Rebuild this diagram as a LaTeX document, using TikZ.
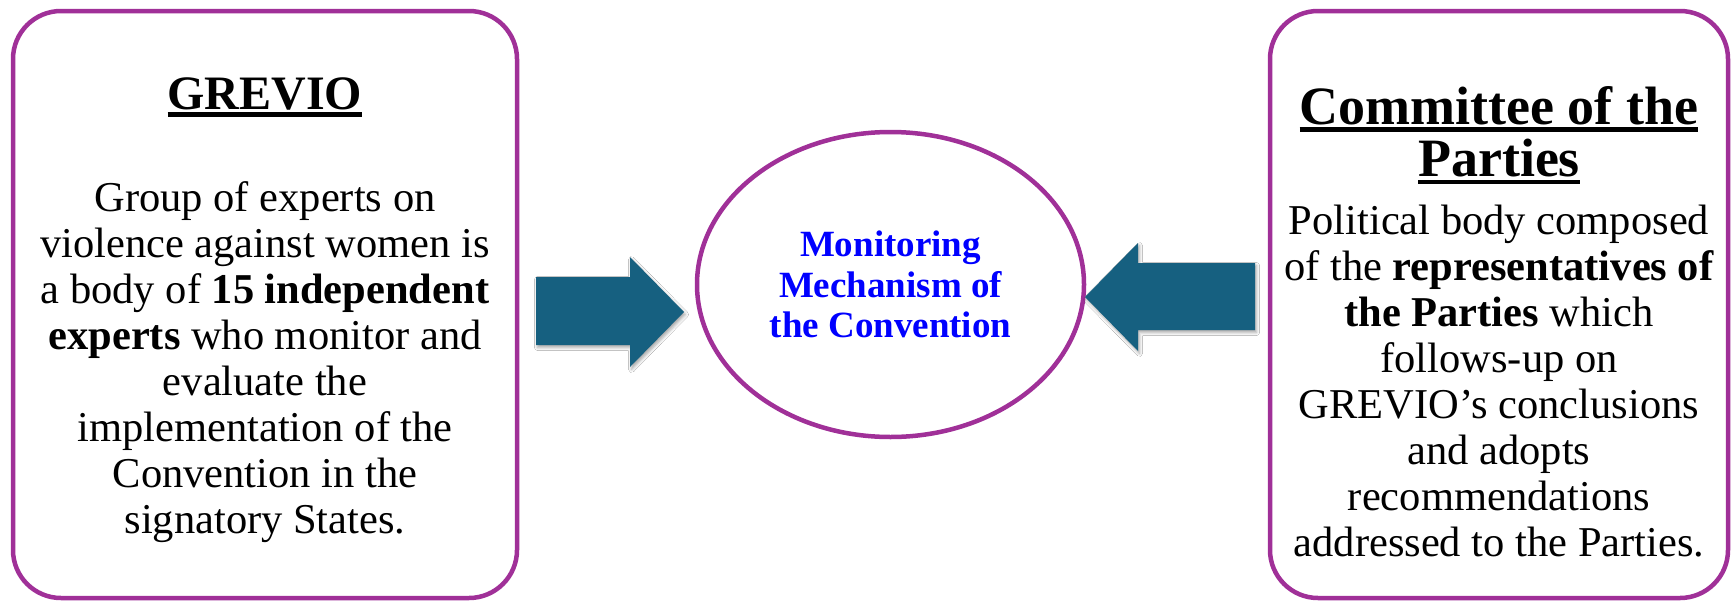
\documentclass[tikz,border=0pt]{standalone}
\usepackage{fontspec}
\setmainfont{Liberation Serif}
\usetikzlibrary{shapes.geometric,shadows.blur}

\definecolor{framepurple}{RGB}{160,48,152}
\definecolor{arrowblue}{RGB}{22,96,128}
\definecolor{titleblue}{RGB}{0,0,255}

% underlined word with a heavy rule just below the baseline
\newsavebox\ulsave
\newcommand\ulbox[1]{\sbox\ulsave{#1}\rlap{\rule[-7.5pt]{\wd\ulsave}{4.5pt}}\usebox\ulsave}

\begin{document}
\begin{tikzpicture}[x=1pt,y=-1pt,
  panel/.style={draw=framepurple, line width=4.5pt, rounded corners=48pt,
    fill=white, inner sep=0pt},
  hub/.style={ellipse, draw=framepurple, line width=4.5pt, fill=white,
    inner sep=0pt, minimum width=387pt, minimum height=305pt},
  blockarrow/.style={fill=arrowblue,
    blur shadow={shadow xshift=1.5pt, shadow yshift=-2.5pt,
      shadow blur radius=3pt, shadow opacity=35}},
  txt/.style={anchor=base, inner sep=0pt, align=center}
]
\useasboundingbox (0,0) rectangle (1735,600);
\fill[white] (0,0) rectangle (1735,600);

% the two description panels and the central hub
\node[panel, minimum width=504pt, minimum height=587pt] (grevio) at (265,304.5) {};
\node[panel, minimum width=458pt, minimum height=587pt] (committee) at (1499,304.5) {};
\node[hub] (mech) at (890.5,284.5) {};

% block arrows pointing at the hub
\path[blockarrow] (536,277) -- (630,277) -- (630,257) -- (684,312)
  -- (630,367) -- (630,345) -- (536,345) -- cycle;
\path[blockarrow] (1255,263) -- (1138,263) -- (1138,243) -- (1085,297)
  -- (1138,351) -- (1138,330) -- (1255,330) -- cycle;

% left panel
\node[txt] (grevioTitle) at (265,109)
  {\fontsize{48}{50}\selectfont\bfseries\ulbox{GREVIO}};
\node[txt] (grevioBody) at (265,211.6)
  {\fontsize{42.5}{46}\selectfont
   \begin{tabular}[t]{@{}c@{}}
   Group of experts on\\
   violence against women is\\
   a body of \textbf{15 independent}\\
   \textbf{experts} who monitor and\\
   evaluate the\\
   implementation of the\\
   Convention in the\\
   signatory States.
   \end{tabular}};

% right panel
\node[txt] (committeeTitle) at (1499,124.4)
  {\fontsize{54}{50}\selectfont\bfseries
   \begin{tabular}[t]{@{}c@{}}
   \ulbox{Committee of the}\\
   \ulbox{Parties}
   \end{tabular}};
\node[txt] (committeeBody) at (1499,234)
  {\fontsize{42.5}{46}\selectfont
   \begin{tabular}[t]{@{}c@{}}
   Political body composed\\
   of the \textbf{representatives of}\\
   \textbf{the Parties} which\\
   follows-up on\\
   GREVIO’s conclusions\\
   and adopts\\
   recommendations\\
   addressed to the Parties.
   \end{tabular}};

% hub label
\node[txt] (mechText) at (890.5,256.7)
  {\fontsize{37}{40.5}\selectfont\bfseries\color{titleblue}
   \begin{tabular}[t]{@{}c@{}}
   Monitoring\\
   Mechanism of\\
   the Convention
   \end{tabular}};
\end{tikzpicture}
\end{document}
